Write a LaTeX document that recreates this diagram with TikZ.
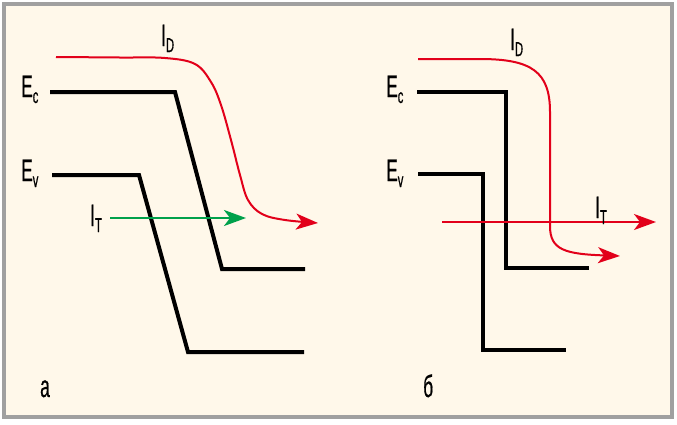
\documentclass[tikz,border=0pt]{standalone}
\usepackage{fontspec}
\setmainfont{Liberation Sans}[FakeStretch=0.56,FakeBold=0.5]
\usetikzlibrary{arrows.meta}
\definecolor{cream}{HTML}{FFF8EA}
\definecolor{framegray}{HTML}{A0A0A0}
\definecolor{bandred}{HTML}{E2001A}
\definecolor{bandgreen}{HTML}{00A14B}
\newcommand\bandlbl[2]{#1\raisebox{-6pt}{\fontsize{20}{20}\selectfont #2}}
\tikzset{
  band/.style={line width=4pt, black, miter limit=10},
  current/.style={line width=2pt, -{Stealth[length=22pt,width=16pt,inset=6pt]}},
  lbl/.style={inner sep=0pt, anchor=base west, font=\fontsize{31}{31}\selectfont},
}
\begin{document}
\begin{tikzpicture}[x=1pt,y=-1pt]
\useasboundingbox (0,0) rectangle (677,424);
\fill[white] (0,0) rectangle (677,424);
\draw[framegray, line width=4pt, fill=cream] (4,4) rectangle (672,417);

% panel a
\draw[band] (50,92) -- (175,92) -- (222,269) -- (305,269);
\draw[band] (52,175) -- (139,175) -- (188,352) -- (304,352);
\coordinate (ida0) at (56,57);
\coordinate (ida1) at (318,223);
\draw[current, bandred] plot[smooth, tension=0.6] coordinates {(56,57) (120,57.5) (165,58) (195,64) (211,82) (221,105) (231,140) (240,175) (248,200) (262,214) (285,220) (318,223)};
\coordinate (ita0) at (110,218);
\coordinate (ita1) at (246,218);
\draw[current, bandgreen, line width=2.4pt] (ita0) -- (ita1);
\node[lbl] (eca) at (21,97) {\bandlbl{E}{c}};
\node[lbl] (eva) at (21,181) {\bandlbl{E}{v}};
\node[lbl] (idla) at (161,46) {\bandlbl{I}{D}};
\node[lbl] (itla) at (90,226) {\bandlbl{I}{T}};
\node[lbl] (pa) at (40,397) {а};

% panel b
\draw[band] (417,92) -- (506,92) -- (506,268) -- (589,268);
\draw[band] (418,174) -- (483,174) -- (483,350) -- (566,350);
\coordinate (idb0) at (418,59);
\coordinate (idb1) at (620,256);
\draw[current, bandred] (idb0) -- (480,59) .. controls (532,59) and (550,72) .. (550,112) -- (550,226) .. controls (550,250) and (565,254) .. (idb1);
\coordinate (itb0) at (442,222);
\coordinate (itb1) at (656,222);
\draw[current, bandred] (itb0) -- (itb1);
\node[lbl] (ecb) at (386,97) {\bandlbl{E}{c}};
\node[lbl] (evb) at (386,181) {\bandlbl{E}{v}};
\node[lbl] (idlb) at (510,50) {\bandlbl{I}{D}};
\node[lbl] (itlb) at (595,218) {\bandlbl{I}{T}};
\node[lbl] (pb) at (423,397) {б};
\end{tikzpicture}
\end{document}
